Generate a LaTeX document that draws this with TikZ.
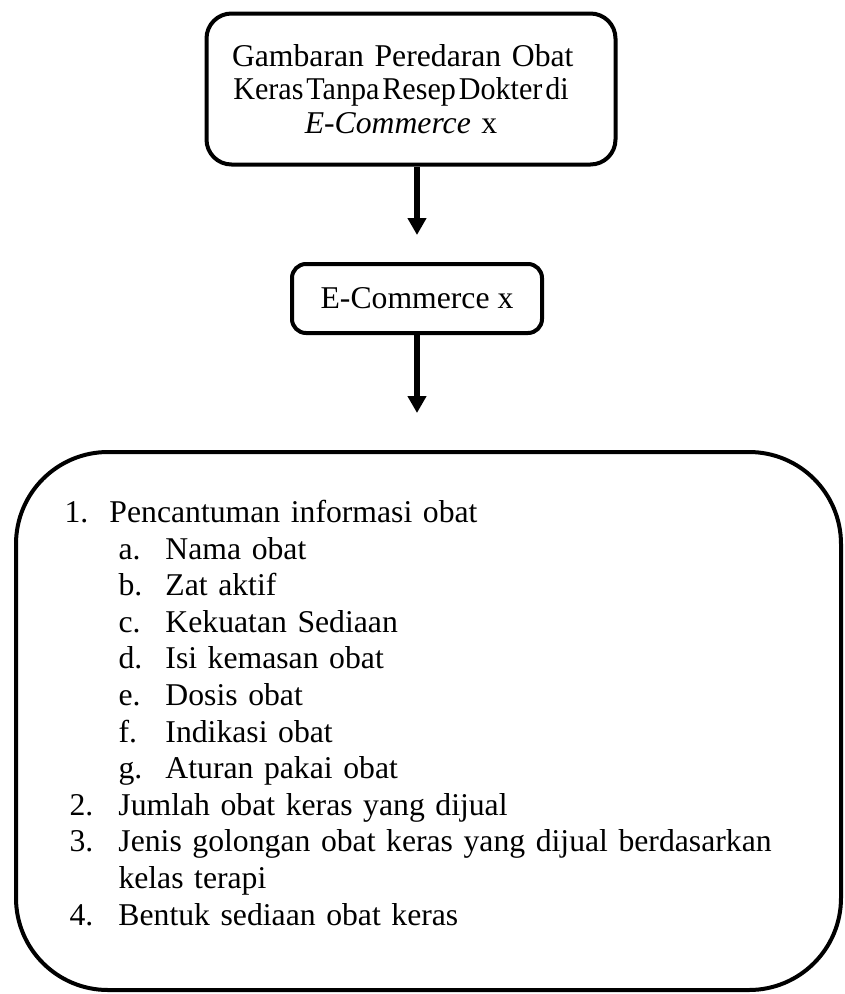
\documentclass[tikz,border=0pt]{standalone}
\usepackage{fontspec}
\setmainfont{Liberation Serif}
\usetikzlibrary{arrows.meta,positioning}
\tikzset{bx/.style={draw, rectangle, line width=4pt, align=center, font=\fontsize{31.7pt}{33.5pt}\selectfont}}
\tikzstyle{lst}=[bx, rounded corners=92pt, align=left, text width=728pt, minimum width=825pt, minimum height=538pt, font=\fontsize{31.7pt}{36.6pt}\selectfont]
\newcommand{\nm}[2]{\makebox[#1][l]{#2}}

\begin{document}
\begin{tikzpicture}[>={Triangle[width=18pt,length=17pt]}, line width=6.5pt, node distance=211pt]
\useasboundingbox (0,0) rectangle (844pt,-994pt);
\node[bx, rounded corners=25pt, text width=338pt, minimum width=409pt, minimum height=151pt] (B0) at (411pt,-89pt)
  {\hspace*{-20pt}\makebox[338pt][s]{Gambaran Peredaran Obat}\\
   \hspace*{-20pt}\makebox[338pt]{\scalebox{0.95}[1]{\spaceskip=3pt Keras Tanpa Resep Dokter di}}\\
   \hspace*{-20pt}\textit{E-Commerce} x};
\node[bx, rounded corners=14pt, minimum width=250pt, minimum height=69pt][below of =B0, xshift=6pt, node distance=209.5pt] (B1) {E-Commerce x};
\node[lst][below of =B1, node distance=422.5pt, xshift=11.5pt] (B2)
  {\nm{45pt}{1.}Pencantuman informasi obat\\
   \hspace*{54pt}\nm{47pt}{a.}Nama obat\\
   \hspace*{54pt}\nm{47pt}{b.}Zat aktif\\
   \hspace*{54pt}\nm{47pt}{c.}Kekuatan Sediaan\\
   \hspace*{54pt}\nm{47pt}{d.}Isi kemasan obat\\
   \hspace*{54pt}\nm{47pt}{e.}Dosis obat\\
   \hspace*{54pt}\nm{47pt}{f.}Indikasi obat\\
   \hspace*{54pt}\nm{47pt}{g.}Aturan pakai obat\\
   \hspace*{5pt}\nm{49pt}{2.}Jumlah obat keras yang dijual\\
   \hspace*{5pt}\nm{49pt}{3.}\makebox[674pt][s]{Jenis golongan obat keras yang dijual berdasarkan}\\
   \hspace*{54pt}kelas terapi\\
   \hspace*{5pt}\nm{49pt}{4.}Bentuk sediaan obat keras\\[-20pt]
   \mbox{}};
\draw[->, shorten >=27pt] (B0.south -| B1) -- (B1.north);
\draw[->, shorten >=37pt] (B1) -- (B1 |- B2.north);
\end{tikzpicture}
\end{document}
